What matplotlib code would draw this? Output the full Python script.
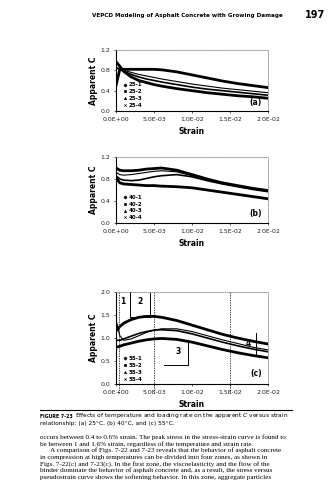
import matplotlib
matplotlib.use("Agg")
import matplotlib.pyplot as plt
from matplotlib.lines import Line2D

# strain values (same grid for every series)
strain = [0.0, 0.0005, 0.001, 0.002, 0.003, 0.004, 0.005, 0.006,
          0.008, 0.010, 0.012, 0.014, 0.016, 0.018, 0.020]

# (a) 25C
c25_1 = [0.50, 0.82, 0.82, 0.82, 0.82, 0.82, 0.82, 0.81, 0.77, 0.71, 0.65, 0.59, 0.54, 0.50, 0.46]
c25_2 = [0.84, 0.82, 0.80, 0.76, 0.72, 0.69, 0.66, 0.63, 0.58, 0.53, 0.49, 0.45, 0.42, 0.39, 0.36]
c25_3 = [0.86, 0.82, 0.78, 0.72, 0.67, 0.63, 0.60, 0.57, 0.52, 0.47, 0.43, 0.40, 0.37, 0.34, 0.31]
c25_4 = [0.97, 0.88, 0.78, 0.67, 0.60, 0.56, 0.52, 0.49, 0.44, 0.40, 0.36, 0.33, 0.30, 0.28, 0.25]

# (b) 40C
c40_1 = [1.00, 0.96, 0.95, 0.95, 0.96, 0.98, 0.99, 1.00, 0.96, 0.88, 0.80, 0.73, 0.68, 0.63, 0.59]
c40_2 = [0.92, 0.88, 0.87, 0.88, 0.90, 0.92, 0.94, 0.95, 0.93, 0.86, 0.79, 0.72, 0.67, 0.62, 0.58]
c40_3 = [0.86, 0.80, 0.78, 0.77, 0.78, 0.81, 0.84, 0.86, 0.88, 0.84, 0.77, 0.71, 0.66, 0.61, 0.57]
c40_4 = [0.82, 0.73, 0.71, 0.70, 0.69, 0.68, 0.68, 0.67, 0.66, 0.64, 0.60, 0.56, 0.52, 0.48, 0.44]

# (c) 55C
c55_1 = [1.15, 1.25, 1.32, 1.40, 1.45, 1.47, 1.47, 1.45, 1.38, 1.28, 1.18, 1.08, 1.00, 0.93, 0.87]
c55_2 = [1.40, 1.05, 0.95, 0.98, 1.05, 1.12, 1.17, 1.20, 1.20, 1.14, 1.05, 0.96, 0.88, 0.80, 0.74]
c55_3 = [0.95, 0.95, 0.98, 1.04, 1.10, 1.14, 1.17, 1.18, 1.16, 1.09, 1.00, 0.91, 0.83, 0.76, 0.70]
c55_4 = [0.80, 0.82, 0.85, 0.89, 0.93, 0.96, 0.98, 0.99, 0.97, 0.91, 0.83, 0.75, 0.68, 0.62, 0.57]

x_ticks = [0.0, 0.005, 0.01, 0.015, 0.02]
x_tick_labels = ["0.0E+00", "5.0E-03", "1.0E-02", "1.5E-02", "2.0E-02"]
zone_x = [0.0004, 0.005, 0.015]
zone_labels = ["1", "2", "3", "4"]

W, H = 328, 480


def box(l, t, r, b):
    return [l / W, 1 - b / H, (r - l) / W, (b - t) / H]


def style_axes(ax, ymax, ystep):
    ax.set_xlim(0, 0.02)
    ax.set_ylim(0, ymax)
    ax.set_xticks(x_ticks)
    ax.set_xticklabels(x_tick_labels)
    yt = [i * ystep for i in range(int(round(ymax / ystep)) + 1)]
    ax.set_yticks(yt)
    ax.set_yticklabels(["%.1f" % v for v in yt])
    ax.tick_params(labelsize=4.5, length=1.5, width=0.5, pad=2.5, colors="#222222")
    for s in ["top", "right"]:
        ax.spines[s].set_linestyle((0, (1, 1.5)))
        ax.spines[s].set_color("#888888")
        ax.spines[s].set_linewidth(0.6)
    for s in ["left", "bottom"]:
        ax.spines[s].set_linewidth(0.8)
    ax.set_ylabel("Apparent C", fontsize=5.5, fontweight="bold", labelpad=2)
    ax.set_xlabel("Strain", fontsize=5.5, fontweight="bold", labelpad=4)


markers = ["D", "s", "^", "x"]
widths = [2.0, 0.8, 1.2, 2.0]

fig = plt.figure(figsize=(W / 100, H / 100), dpi=100)

panels = [
    (box(116, 50, 268, 111), [c25_1, c25_2, c25_3, c25_4], ["25-1", "25-2", "25-3", "25-4"], 1.2, 0.4, "(a)"),
    (box(116, 157, 268, 223), [c40_1, c40_2, c40_3, c40_4], ["40-1", "40-2", "40-3", "40-4"], 1.2, 0.4, "(b)"),
    (box(116, 292, 268, 384), [c55_1, c55_2, c55_3, c55_4], ["55-1", "55-2", "55-3", "55-4"], 2.0, 0.5, "(c)"),
]

axes = []
for rect, series, names, ymax, ystep, tag in panels:
    ax = fig.add_axes(rect)
    for ys, lw in zip(series, widths):
        ax.plot(strain, ys, color="black", lw=lw, solid_capstyle="round")
    handles = [Line2D([], [], color="black", marker=m, linestyle="none", markersize=1.6,
                      markeredgewidth=0.5) for m in markers]
    ax.legend(handles, names, loc="lower left", bbox_to_anchor=(0.02, -0.02), frameon=False,
              prop={"size": 4.0, "weight": "bold"}, handlelength=0.6, handletextpad=0.4,
              labelspacing=0.35, borderpad=0.2)
    ax.text(0.96, 0.07, tag, transform=ax.transAxes, ha="right", va="bottom",
            fontsize=5.5, fontweight="bold")
    style_axes(ax, ymax, ystep)
    axes.append(ax)

# zones in (c)
axc = axes[2]
for zx in zone_x:
    axc.axvline(zx, ymin=-0.1, ymax=1.0, color="black", lw=0.5, ls=(0, (2, 1.5)), clip_on=False)
axc.text(0.0009, 1.8, zone_labels[0], fontsize=5.5, fontweight="bold", ha="center", va="center")
axc.text(0.0031, 1.8, zone_labels[1], fontsize=5.5, fontweight="bold", ha="center", va="center")
axc.plot([0.0018, 0.0018, 0.0045, 0.0045], [2.0, 1.45, 1.45, 2.0], color="black", lw=0.7)
axc.text(0.0082, 0.70, zone_labels[2], fontsize=5.5, fontweight="bold", ha="center", va="center")
axc.plot([0.0063, 0.0095, 0.0095], [0.41, 0.41, 0.96], color="black", lw=0.7)
axc.text(0.0174, 0.89, zone_labels[3], fontsize=5.5, fontweight="bold", ha="center", va="center")
axc.plot([0.0184, 0.0184], [0.63, 1.10], color="black", lw=0.7)

# page header
fig.text(92 / W, 1 - 15 / H, "VEPCD Modeling of Asphalt Concrete with Growing Damage",
         fontsize=4.05, fontweight="bold", va="center", ha="left")
fig.text(315 / W, 1 - 15 / H, "197", fontsize=7, fontweight="bold", va="center", ha="center")

# caption
fig.add_artist(Line2D([40 / W, 292 / W], [1 - 410 / H, 1 - 410 / H], color="black", lw=0.8))
fig.text(40 / W, 1 - 416 / H, "FIGURE 7-23", fontsize=3.4, fontweight="bold", va="center")
fig.text(75 / W, 1 - 416 / H,
         "Effects of temperature and loading rate on the apparent $\\mathit{C}$ versus strain",
         fontsize=4.2, va="center")
fig.text(40 / W, 1 - 424 / H, "relationship: (a) 25°C, (b) 40°C, and (c) 55°C.",
         fontsize=4.2, va="center")

body = [
    "occurs between 0.4 to 0.6% strain. The peak stress in the stress-strain curve is found to",
    "be between 1 and 1.6% strain, regardless of the temperature and strain rate.",
    "      A comparison of Figs. 7-22 and 7-23 reveals that the behavior of asphalt concrete",
    "in compression at high temperatures can be divided into four zones, as shown in",
    "Figs. 7-22(c) and 7-23(c). In the first zone, the viscoelasticity and the flow of the",
    "binder dominate the behavior of asphalt concrete and, as a result, the stress versus",
    "pseudostrain curve shows the softening behavior. In this zone, aggregate particles",
]
for i, line in enumerate(body):
    fig.text(40 / W, 1 - (437 + 6.7 * i) / H, line, fontsize=5.1, family="Liberation Serif",
             va="center", ha="left")

fig.savefig("out.png", dpi=100)
